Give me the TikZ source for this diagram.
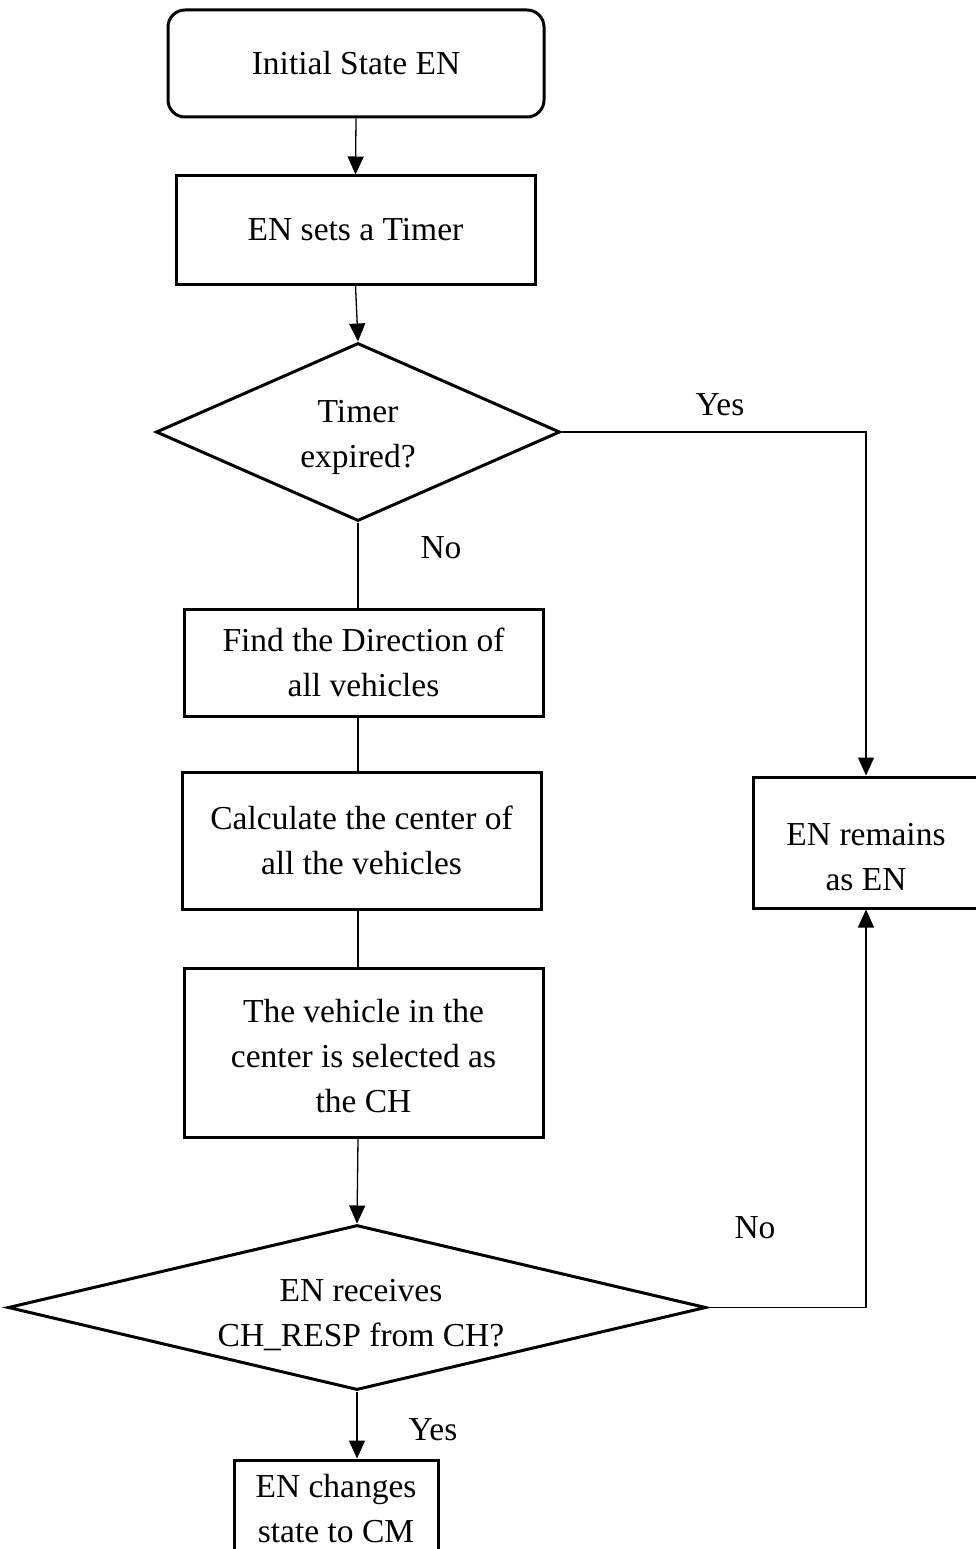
\documentclass[tikz,border=0pt]{standalone}
\usepackage{fontspec}
\setmainfont{Liberation Serif}
\usetikzlibrary{shapes.geometric,arrows.meta}
\begin{document}
\begin{tikzpicture}[x=1pt,y=1pt,
  every node/.style={font=\fontsize{33.5}{45}\selectfont},
  box/.style={draw,line width=3pt,rectangle,align=center,inner sep=0pt},
  dec/.style={draw,line width=3pt,diamond,align=center,inner sep=0pt},
  conn/.style={line width=1.3pt},
  arr/.style={conn,-{Triangle[length=18pt,width=16pt]}},
  lbl/.style={inner sep=0pt,align=center}]
\useasboundingbox (0,0) rectangle (976,-1549);
\clip (0,0) rectangle (976,-1549);
\node[box,rounded corners=17pt,minimum width=376pt,minimum height=107pt] (init) at (356,-63.5) {Initial State EN};
\node[box,minimum width=359pt,minimum height=108pt] (timer) at (355.5,-230) {EN sets a Timer};
\node[dec,minimum width=404pt,minimum height=178pt,shape aspect=2.27] (dec1) at (358,-432) {};
\node[lbl] (dec1txt) at (358,-437) {Timer\\expired?};
\node[box,minimum width=359pt,minimum height=107pt] (dir) at (363.5,-662.5) {Find the Direction of\\all vehicles};
\node[box,minimum width=359pt,minimum height=137pt] (calc) at (361.5,-840.5) {Calculate the center of\\all the vehicles};
\node[box,minimum width=359pt,minimum height=169pt] (veh) at (363.5,-1052.5) {};
\node[lbl] (vehtxt) at (363.5,-1056) {The vehicle in the\\center is selected as\\the CH};
\node[dec,minimum width=698pt,minimum height=165pt,shape aspect=4.2] (dec2) at (357,-1307.5) {};
\node[lbl] (dec2txt) at (361,-1315) {EN receives\\CH\_RESP from CH?};
\node[box,minimum width=226pt,minimum height=131pt] (remains) at (866,-842.5) {};
\node[lbl] (remainstxt) at (866,-857) {EN remains\\as EN};
\node[box,minimum width=204pt,minimum height=120pt] (change) at (336,-1520) {};
\node[lbl] (changetxt) at (336,-1509) {EN changes\\state to CM};
\draw[arr] (init.south) -- (timer.north);
\draw[arr] (timer.south) -- (dec1.north);
\draw[arr] (dec1.east) -| (remains.north);
\draw[conn] (dec1.south) -- (dec1.south |- dir.north);
\draw[conn] (dec1.south |- dir.south) -- (dec1.south |- calc.north);
\draw[conn] (dec1.south |- calc.south) -- (dec1.south |- veh.north);
\draw[arr] (dec1.south |- veh.south) -- (dec2.north);
\draw[arr] (dec2.east) -| (remains.south);
\draw[arr] (dec2.south) -- (dec2.south |- change.north);
\node[lbl] (yes1) at (720,-405) {Yes};
\node[lbl] (no1) at (441,-548) {No};
\node[lbl] (no2) at (755,-1228) {No};
\node[lbl] (yes2) at (433,-1430) {Yes};
\end{tikzpicture}
\end{document}
